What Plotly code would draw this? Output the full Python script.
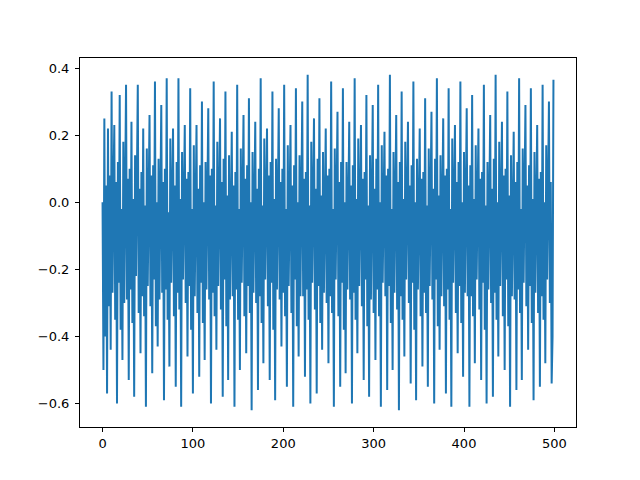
import plotly.graph_objects as go

# signal samples, index 0..499
signal = [
    0.00, -0.50, 0.25, -0.40, 0.05, -0.57, 0.22, -0.31, 0.08, -0.44, 0.33, -0.27, 0.02,
    0.23, -0.35, 0.06, -0.60, 0.12, -0.24, 0.32, -0.38, -0.02, -0.47, 0.18, -0.30, 0.04,
    0.35, -0.29, 0.07, -0.53, 0.10, -0.26, 0.24, -0.36, 0.01, -0.58, 0.14, -0.22, 0.03,
    0.35, -0.33, 0.04, -0.45, 0.09, -0.28, 0.22, -0.34, -0.01, -0.61, 0.16, -0.25, 0.05,
    0.26, -0.31, 0.08, -0.51, 0.11, -0.23, 0.36, -0.37, 0.00, -0.43, 0.13, -0.29, 0.02,
    0.29, -0.27, 0.06, -0.59, 0.10, -0.26, 0.37, -0.35, -0.03, -0.49, 0.19, -0.24, 0.04,
    0.22, -0.34, 0.05, -0.55, 0.12, -0.27, 0.37, -0.32, 0.01, -0.61, 0.15, -0.23, 0.03,
    0.23, -0.30, 0.07, -0.46, 0.09, -0.25, 0.34, -0.38, -0.02, -0.57, 0.17, -0.28, 0.06,
    0.23, -0.33, 0.04, -0.52, 0.11, -0.24, 0.30, -0.36, 0.00, -0.47, 0.12, -0.26, 0.02,
    0.28, -0.29, 0.08, -0.60, 0.10, -0.27, 0.36, -0.34, -0.01, -0.44, 0.18, -0.25, 0.05,
    0.25, -0.32, 0.06, -0.58, 0.13, -0.23, 0.33, -0.37, 0.02, -0.53, 0.14, -0.29, 0.03,
    0.21, -0.28, 0.05, -0.61, 0.09, -0.26, 0.35, -0.35, -0.02, -0.50, 0.16, -0.24, 0.04,
    0.26, -0.34, 0.07, -0.45, 0.11, -0.25, 0.31, -0.33, 0.00, -0.62, 0.15, -0.27, 0.02,
    0.24, -0.30, 0.04, -0.56, 0.10, -0.28, 0.37, -0.36, -0.01, -0.48, 0.19, -0.23, 0.06,
    0.22, -0.31, 0.08, -0.53, 0.12, -0.24, 0.33, -0.38, 0.01, -0.59, 0.13, -0.26, 0.03,
    0.28, -0.29, 0.06, -0.43, 0.10, -0.27, 0.35, -0.34, -0.02, -0.55, 0.17, -0.25, 0.05,
    0.23, -0.33, 0.05, -0.61, 0.11, -0.23, 0.34, -0.37, 0.00, -0.46, 0.14, -0.28, 0.02,
    0.30, -0.28, 0.07, -0.52, 0.09, -0.26, 0.38, -0.35, -0.01, -0.60, 0.18, -0.24, 0.04,
    0.25, -0.32, 0.04, -0.57, 0.13, -0.25, 0.31, -0.36, 0.02, -0.44, 0.15, -0.27, 0.03,
    0.22, -0.30, 0.08, -0.48, 0.10, -0.28, 0.36, -0.33, -0.02, -0.61, 0.16, -0.23, 0.06,
    0.27, -0.34, 0.06, -0.55, 0.12, -0.24, 0.34, -0.38, 0.00, -0.51, 0.12, -0.26, 0.02,
    0.24, -0.29, 0.05, -0.60, 0.11, -0.27, 0.37, -0.35, 0.01, -0.45, 0.19, -0.25, 0.04,
    0.23, -0.31, 0.07, -0.53, 0.09, -0.23, 0.32, -0.37, -0.01, -0.58, 0.14, -0.29, 0.03,
    0.29, -0.33, 0.04, -0.47, 0.13, -0.26, 0.35, -0.34, 0.00, -0.61, 0.17, -0.24, 0.05,
    0.21, -0.28, 0.08, -0.56, 0.10, -0.25, 0.38, -0.36, -0.02, -0.50, 0.15, -0.27, 0.02,
    0.26, -0.32, 0.06, -0.62, 0.12, -0.28, 0.33, -0.35, 0.01, -0.46, 0.18, -0.23, 0.06,
    0.24, -0.30, 0.05, -0.54, 0.11, -0.24, 0.36, -0.38, 0.00, -0.59, 0.13, -0.26, 0.03,
    0.22, -0.34, 0.07, -0.49, 0.09, -0.27, 0.31, -0.33, -0.01, -0.55, 0.16, -0.25, 0.04,
    0.27, -0.29, 0.04, -0.60, 0.13, -0.23, 0.37, -0.37, 0.02, -0.44, 0.14, -0.28, 0.02,
    0.25, -0.31, 0.08, -0.57, 0.10, -0.26, 0.34, -0.35, -0.02, -0.61, 0.19, -0.24, 0.05,
    0.23, -0.33, 0.06, -0.45, 0.12, -0.25, 0.36, -0.36, 0.00, -0.52, 0.15, -0.27, 0.03,
    0.28, -0.28, 0.05, -0.61, 0.11, -0.28, 0.32, -0.34, 0.01, -0.48, 0.17, -0.23, 0.04,
    0.22, -0.32, 0.07, -0.53, 0.09, -0.24, 0.35, -0.38, -0.01, -0.60, 0.12, -0.26, 0.06,
    0.26, -0.30, 0.04, -0.58, 0.13, -0.27, 0.38, -0.35, 0.00, -0.46, 0.18, -0.25, 0.02,
    0.24, -0.34, 0.08, -0.50, 0.10, -0.23, 0.33, -0.37, 0.02, -0.61, 0.14, -0.28, 0.03,
    0.21, -0.29, 0.06, -0.56, 0.12, -0.26, 0.37, -0.33, -0.02, -0.53, 0.16, -0.24, 0.05,
    0.29, -0.31, 0.05, -0.44, 0.11, -0.25, 0.34, -0.36, 0.01, -0.59, 0.15, -0.27, 0.04,
    0.23, -0.33, 0.07, -0.55, 0.09, -0.28, 0.35, -0.35, 0.00, -0.48, 0.17, -0.23, 0.03,
    0.30, -0.30, 0.06, -0.54, -0.40, 0.365,
]
n = list(range(len(signal)))

x_ticks = [0, 100, 200, 300, 400, 500]
y_ticks = [-0.6, -0.4, -0.2, 0.0, 0.2, 0.4]

# matplotlib-like 5% padding
lo, hi = min(signal), max(signal)
pad_y = (hi - lo) * 0.05
pad_x = (len(signal) - 1) * 0.05

fig = go.Figure()
fig.add_trace(go.Scatter(x=n, y=signal, mode="lines",
                         line=dict(color="#1f77b4", width=2)))

axis_style = dict(showline=True, linecolor="black", linewidth=1, mirror=True,
                  ticks="outside", ticklen=4, tickwidth=1, tickcolor="black",
                  showgrid=False, zeroline=False,
                  tickfont=dict(family="DejaVu Sans", size=13, color="black"))
fig.update_xaxes(range=[-pad_x, len(signal) - 1 + pad_x], tickvals=x_ticks, **axis_style)
fig.update_yaxes(range=[lo - pad_y, hi + pad_y], tickvals=y_ticks, tickformat=".1f",
                 ticklabelstandoff=3, **axis_style)
# page body adds an 8px offset, so the figure is 8px smaller and margins shifted
fig.update_layout(width=632, height=472, showlegend=False,
                  plot_bgcolor="white", paper_bgcolor="white",
                  margin=dict(l=72, r=64, t=50, b=53))
fig.write_html("out.html")
